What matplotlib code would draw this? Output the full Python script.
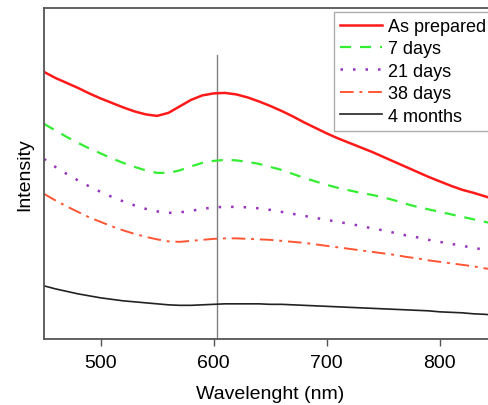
import matplotlib
matplotlib.use("Agg")
import matplotlib.pyplot as plt
import numpy as np

plt.rcParams['font.family'] = ['Liberation Sans', 'DejaVu Sans']

wavelength = list(range(450, 851, 10))
as_prepared = [267, 261, 256, 251, 245.5, 240.5, 236, 231.5, 227.5, 224.5, 223, 226, 232.5, 239, 243.5, 245.5, 246, 244.5, 241.5, 237.5, 233,
               228, 222.5, 216.5, 211, 205.5, 200.5, 196, 191.5, 187, 182, 177, 172, 167, 162, 157.5, 153, 149, 146, 142.5, 139]
days_7 = [215, 208.5, 202, 196, 190.5, 185.5, 180.5, 176, 172, 168.5, 166, 166, 168.5, 172.5, 176, 178, 179, 178.5, 177, 175, 172,
          169, 165, 161, 157.5, 154, 151, 148.5, 146, 144, 141.5, 138.5, 135, 132, 129.5, 127, 124.5, 122, 119.5, 117, 114.5]
days_21 = [180, 172, 165, 158.5, 152.5, 147, 142, 137.5, 133.5, 130, 127.5, 126, 126.5, 128, 130, 131.5, 132, 132, 131.5, 130.5, 129,
           127, 125, 123, 121, 119, 117, 115, 113, 110.5, 108.5, 106, 103.5, 101.5, 99, 97, 95, 93, 91, 89, 87]
days_38 = [145, 138.5, 132.5, 127, 121.5, 117, 112.5, 108.5, 105, 102, 99.5, 97.5, 97, 98, 99, 100, 100.5, 100.5, 100, 99.5, 99,
           98, 97, 96, 94.5, 93, 91.5, 90, 88.5, 87, 85.5, 84, 82, 80.5, 78.5, 77, 75.5, 74, 72.5, 70.5, 69]
months_4 = [53, 50, 47.5, 45, 43, 41, 39.5, 38, 37, 36, 35, 34, 33.5, 33.5, 34, 34.5, 35, 35, 35, 35, 34.5,
            34.5, 34, 33.5, 33, 32.5, 32, 31.5, 31, 30.5, 30, 29.5, 29, 28.5, 28, 27, 26.5, 26, 25, 24.5, 23.5]
peak_nm = 603

fig = plt.figure(figsize=(4.89, 4.06), dpi=100)
ax = fig.add_axes([0.09, 0.163, 0.925, 0.815])

ax.axvline(peak_nm, ymin=0, ymax=284 / 331, color='#808080', lw=1)
ax.plot(wavelength, as_prepared, color='#ff1a1a', lw=1.8, label='As prepared')
ax.plot(wavelength, days_7, color='#33ee33', lw=1.6, ls=(0, (5, 4)), label='7 days')
ax.plot(wavelength, days_21, color='#9933bb', lw=1.8, ls=(0, (1, 4)), label='21 days')
ax.plot(wavelength, days_38, color='#ff5533', lw=1.4, ls=(0, (7, 3, 1.5, 3)), label='38 days')
ax.plot(wavelength, months_4, color='#222222', lw=1.2, label='4 months')

ax.set_xlim(450, 850)
ax.set_ylim(0, 331)
ax.set_xticks([500, 600, 700, 800])
ax.set_yticks([])
ax.tick_params(axis='x', labelsize=14, length=5, width=1, color='#555555', pad=6)
for s in ax.spines.values():
    s.set_color('#555555')
    s.set_linewidth(1.3)

ax.set_xlabel('Wavelenght (nm)', fontsize=14, labelpad=10)
ax.set_ylabel('Intensity', fontsize=14, labelpad=8)

leg = ax.legend(loc='upper right', fontsize=13, frameon=True, fancybox=False,
                edgecolor='#999999', borderaxespad=0.2, handlelength=2.3,
                labelspacing=0.3, borderpad=0.35, handletextpad=0.35)
leg.get_frame().set_linewidth(1)

fig.savefig('out.png', dpi=100)
